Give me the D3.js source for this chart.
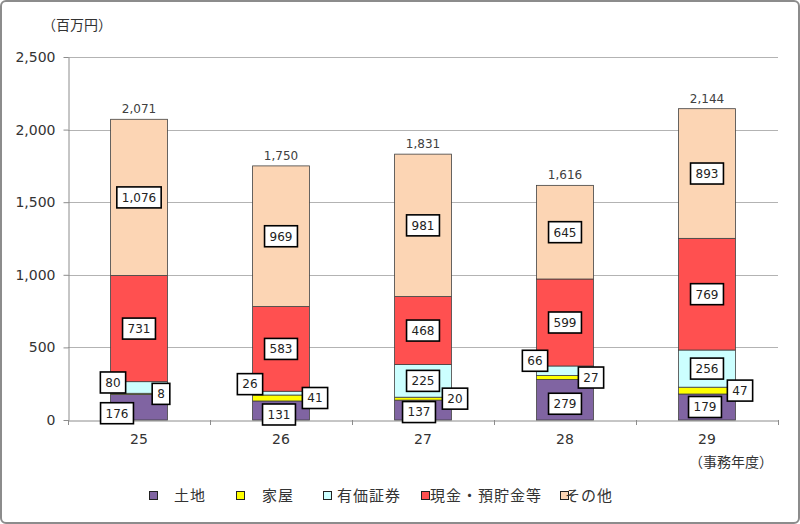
<!DOCTYPE html>
<html><head><meta charset="utf-8">
<script src="https://cdn.jsdelivr.net/npm/d3@7"></script>
<style>body{margin:0;background:#fff;}svg{display:block;}</style>
</head><body>
<script>
const categories = ["25","26","27","28","29"];
const seriesNames = ["土地","家屋","有価証券","現金・預貯金等","その他"];
const landValues = [176,131,137,279,179];
const houseValues = [8,41,20,27,47];
const securitiesValues = [80,26,225,66,256];
const cashValues = [731,583,468,599,769];
const otherValues = [1076,969,981,645,893];
const yTicks = [0,500,1000,1500,2000,2500];

const seriesValues = [landValues, houseValues, securitiesValues, cashValues, otherValues];
const colors = ["#8064A2","#FFFF00","#CCFFFF","#FF5050","#FCD5B4"];
// label offsets (layout), per series per category [dx, dy]
const labelOffsets = [
  [[-22,6],[-2,4],[-4,2],[0,4],[-2,0]],
  [[22,0],[34,0],[32,0],[26,0],[33,0]],
  [[-26,-5],[-31,-9],[0,0],[-30,-10],[0,0]],
  [[0,0],[0,0],[0,0],[0,0],[0,0]],
  [[0,0],[0,0],[0,0],[0,0],[0,0]]
];
const legendSquareX = [149,236,323,421,560];
const legendTextX = [174,262,337,430,565];

const W=800,H=524;
const svg=d3.select("body").append("svg").attr("width",W).attr("height",H);
svg.append("rect").attr("x",1).attr("y",1).attr("width",W-2).attr("height",H-2)
  .attr("rx",5).attr("fill","#fff").attr("stroke","#8c8c8c").attr("stroke-width",2);

const mLeft=68,mRight=778,mTop=57,mBottom=420;
const x=d3.scaleBand().domain(categories).range([mLeft,mRight]);
const y=d3.scaleLinear().domain([0,2500]).range([mBottom,mTop]);
const barW=x.bandwidth()*0.4;
const fmt=d3.format(",");
const font="'DejaVu Sans', Verdana, sans-serif";
const jfont="'Noto Sans CJK JP', sans-serif";

// gridlines
svg.append("g").selectAll("line").data(yTicks.filter(d=>d>0)).join("line")
  .attr("x1",mLeft).attr("x2",mRight).attr("y1",d=>Math.round(y(d))+0.5).attr("y2",d=>Math.round(y(d))+0.5)
  .attr("stroke","#b3b3b3").attr("stroke-width",1);

// y axis
const yAxis=svg.append("g").attr("transform",`translate(${mLeft+0.5},0)`)
  .call(d3.axisLeft(y).tickValues(yTicks).tickFormat(fmt).tickSize(5).tickSizeOuter(0));
yAxis.select(".domain").attr("stroke","#8c8c8c");
yAxis.selectAll(".tick line").attr("stroke","#8c8c8c");
yAxis.selectAll(".tick text").attr("font-family",font).attr("font-size",14).attr("fill","#333").attr("x",-13);

// x axis
const xAxis=svg.append("g").attr("transform",`translate(0,${mBottom+0.5})`)
  .call(d3.axisBottom(x).tickSize(0).tickSizeOuter(0));
xAxis.select(".domain").attr("stroke","#8c8c8c");
xAxis.selectAll(".tick text").attr("font-family",font).attr("font-size",14).attr("fill","#333").attr("dy","0.71em").attr("y",14);
svg.append("g").selectAll("line").data(d3.range(categories.length+1)).join("line")
  .attr("x1",i=>Math.round(mLeft+i*x.step())+0.5).attr("x2",i=>Math.round(mLeft+i*x.step())+0.5)
  .attr("y1",mBottom).attr("y2",mBottom+5).attr("stroke","#8c8c8c");

// stacks
const rows=categories.map((c,i)=>{const o={cat:c};seriesNames.forEach((s,j)=>o[s]=seriesValues[j][i]);return o;});
const stack=d3.stack().keys(seriesNames)(rows);
const gBars=svg.append("g");
stack.forEach((layer,j)=>{
  gBars.selectAll(null).data(layer).join("rect")
    .attr("x",d=>x(d.data.cat)+x.bandwidth()/2-barW/2)
    .attr("y",d=>y(d[1]))
    .attr("width",barW)
    .attr("height",d=>y(d[0])-y(d[1]))
    .attr("fill",colors[j]).attr("stroke","#404040").attr("stroke-width",0.8);
});

// totals
const totals=categories.map((c,i)=>d3.sum(seriesValues,s=>s[i]));
svg.append("g").selectAll("text").data(categories).join("text")
  .attr("x",c=>x(c)+x.bandwidth()/2).attr("y",(c,i)=>y(totals[i])-6)
  .attr("text-anchor","middle").attr("font-family",font).attr("font-size",12).attr("fill","#404040")
  .text((c,i)=>fmt(totals[i]));

// segment labels
const gLab=svg.append("g");
stack.forEach((layer,j)=>{
  layer.forEach((d,i)=>{
    const cx=x(d.data.cat)+x.bandwidth()/2+labelOffsets[j][i][0];
    const cy=(y(d[0])+y(d[1]))/2+labelOffsets[j][i][1];
    const txt=fmt(d[1]-d[0]);
    const g=gLab.append("g");
    const r=g.append("rect");
    const t=g.append("text").attr("x",cx).attr("y",cy).attr("dy","0.36em")
      .attr("text-anchor","middle").attr("font-family",font).attr("font-size",12).attr("fill","#222").text(txt);
    const w=t.node().getComputedTextLength()+10, h=21;
    r.attr("x",cx-w/2).attr("y",cy-h/2).attr("width",w).attr("height",h)
      .attr("fill","#fff").attr("stroke","#000").attr("stroke-width",1.6);
  });
});

// unit labels
svg.append("text").attr("x",42).attr("y",30).attr("font-family",jfont).attr("font-size",14).attr("fill","#333").text("（百万円）");
svg.append("text").attr("x",773).attr("y",467).attr("text-anchor","end").attr("font-family",jfont).attr("font-size",14).attr("fill","#333").text("（事務年度）");

// legend
const lg=svg.append("g");
seriesNames.forEach((s,j)=>{
  lg.append("rect").attr("x",legendSquareX[j]+0.5).attr("y",491.5).attr("width",8).attr("height",8)
    .attr("fill",colors[j]).attr("stroke","#222").attr("stroke-width",1);
  lg.append("text").attr("x",legendTextX[j]).attr("y",496).attr("dy","0.36em").attr("font-family",jfont)
    .attr("font-size",15).attr("letter-spacing",1).attr("fill","#333").text(s);
});
</script>
</body></html>
